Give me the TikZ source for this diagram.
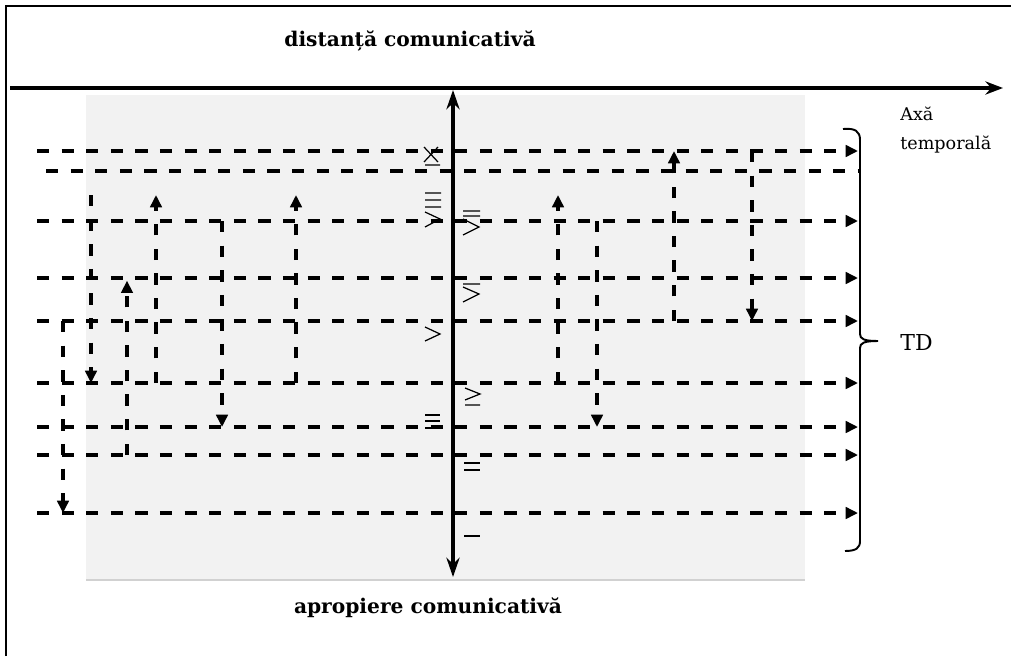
\documentclass[tikz,border=0pt]{standalone}
\usepackage{fontspec}
\setmainfont{DejaVu Serif}
\usetikzlibrary{arrows.meta}
\definecolor{PanelGray}{RGB}{242,242,242}
\tikzset{
  level/.style={draw=black,line width=1.9pt,dash pattern=on 7pt off 7pt},
  link/.style={draw=black,line width=1.9pt,dash pattern=on 6.5pt off 7.5pt},
  tip/.style={-{Triangle[length=7pt,width=6.5pt]}},
  axis/.style={draw=black,line width=2.4pt},
  sign/.style={draw=black,line width=0.7pt},
  title/.style={font=\fontsize{11.5}{13}\selectfont\bfseries,inner sep=0pt},
  note/.style={font=\fontsize{10}{17}\selectfont,inner sep=0pt,align=left},
}

\begin{document}
\begin{tikzpicture}[x=0.02cm,y=-0.02cm]
\useasboundingbox (0,0) rectangle (1011,656);
% frame and panel
\draw[line width=1.1pt] (6,656) -- (6,6) -- (1011,6);
\fill[PanelGray] (86,95) rectangle (805,580);
\draw[black!18,line width=1.2pt] (86,580) -- (805,580);
% time lines
\foreach \n/\y in {1/151,3/221,4/278,5/321,6/383,7/427,8/455,9/513} {
  \coordinate (w\n) at (37,\y);
  \coordinate (e\n) at (858,\y);
}
\coordinate (w2) at (46,171);
\coordinate (e2) at (861,171);
\foreach \n in {1,3,4,5,6,7,8,9}
  \draw[level,tip] (w\n) -- (e\n);
\draw[level] (w2) -- (e2);
% columns
\foreach \n/\x in {c1/63,c2/91,c3/127,c4/156,c5/222,c6/296,c7/558,c8/597,c9/674,c10/752}
  \coordinate (\n) at (\x,195);
\draw[link,tip] (c2) -- (c2 |- w6);
\draw[link,tip] (c4 |- w6) -- (c4);
\draw[link,tip] (c6 |- w6) -- (c6);
\draw[link,tip] (c5 |- w3) -- (c5 |- w7);
\draw[link,tip,shorten >=1.5pt] (c3 |- w8) -- (c3 |- w4);
\draw[link,tip] (c1 |- w5) -- (c1 |- w9);
\draw[link,tip] (c7 |- w6) -- (c7);
\draw[link,tip] (c8 |- w3) -- (c8 |- w7);
\draw[link,tip] (c9 |- w5) -- (c9 |- w1);
\draw[link,tip] (c10 |- w1) -- (c10 |- w5);
% axes
\coordinate (hl) at (10,88);
\coordinate (hr) at (1003,88);
\coordinate (vt) at (453,90);
\coordinate (vb) at (453,577);
\draw[axis,-{Stealth[length=10pt,width=7.5pt]}] (hl) -- (hr);
\draw[axis,{Stealth[length=11pt,width=7.5pt]}-{Stealth[length=11pt,width=7.5pt]}] (vt) -- (vb);
% brace
\coordinate (b1) at (843,129);
\coordinate (bm) at (878,341);
\coordinate (b2) at (845,551);
\draw[line width=1.1pt] (b1) .. controls (855,128) and (860,131) .. (860,140)
  -- (860,334) .. controls (860,339) and (864,341) .. (bm)
  .. controls (864,341) and (860,343) .. (860,348)
  -- (860,541) .. controls (860,548) and (856,551) .. (b2);
% relation signs
\draw[sign] (424,147) -- (438,162) (438,147) -- (424,162) (425,165) -- (440,165);
\draw[sign] (425,193) -- (441,193) (425,200) -- (441,200) (425,207) -- (441,207)
  (425,212) -- (440,219) -- (425,227);
\draw[sign] (463,211) -- (480,211) (463,216) -- (480,216)
  (463,219) -- (479,227) -- (463,235);
\draw[sign] (463,284) -- (480,284) (463,287) -- (479,294) -- (463,302);
\draw[sign] (425,327) -- (440,334) -- (425,341);
\draw[sign] (465,388) -- (480,394) -- (465,400) (465,405) -- (480,405);
\draw[sign] (425,415) -- (440,415) (425,421) -- (440,421) (425,428) -- (440,428);
\draw[sign] (464,463) -- (480,463) (464,470) -- (480,470);
\draw[sign] (464,536) -- (480,536);
% labels
\node[title] (dist) at (410,41) {distanță comunicativă};
\node[title] (apro) at (428,608) {apropiere comunicativă};
\node[note,anchor=west] (axa) at (900,130) {Axă\\temporală};
\node[anchor=west,inner sep=0pt,font=\fontsize{12.5}{15}\selectfont] (td) at (900,342) {TD};
\end{tikzpicture}
\end{document}
